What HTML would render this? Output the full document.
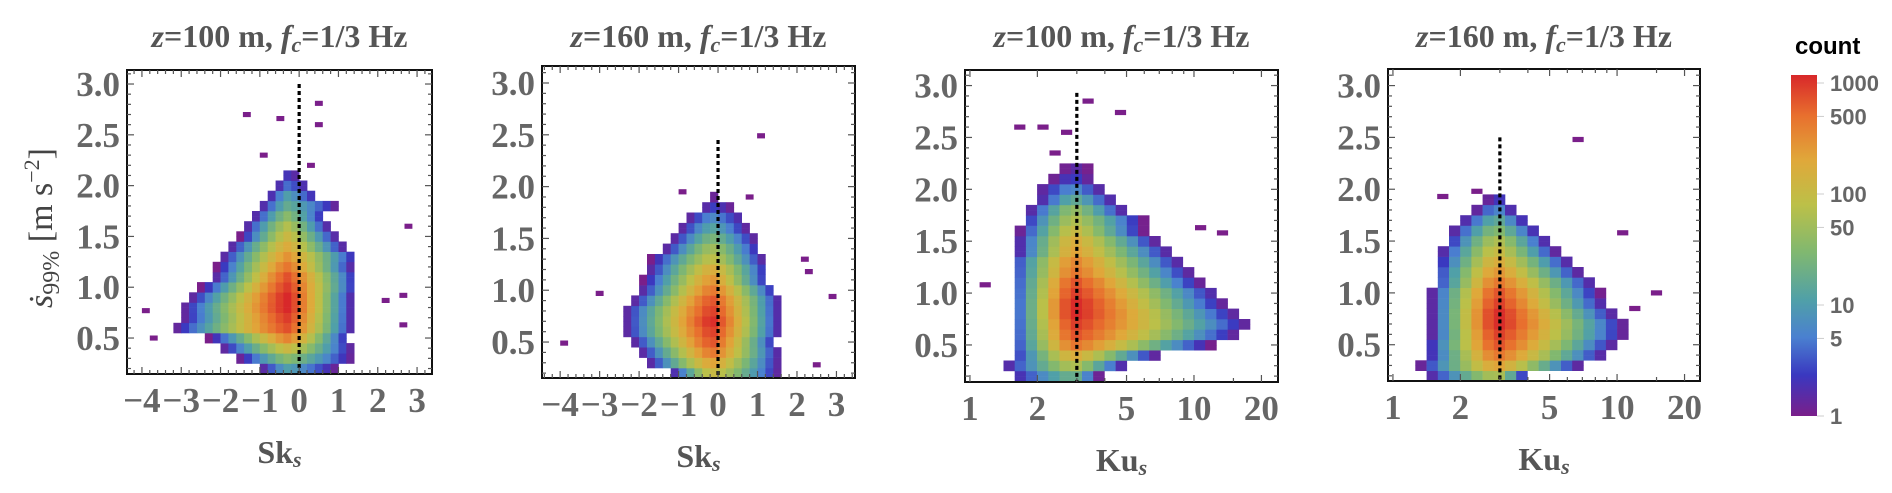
<!DOCTYPE html>
<html><head><meta charset="utf-8"><style>
html,body{margin:0;padding:0;background:#fff;}
svg{display:block;}
.tk{font-family:"Liberation Serif",serif;font-weight:bold;fill:#666;font-size:35px;}
.tt{font-family:"Liberation Serif",serif;font-weight:bold;fill:#555;font-size:32px;}
.cb{font-family:"Liberation Sans",sans-serif;font-weight:bold;fill:#666;font-size:22px;}
</style></head><body>
<svg id="chart" width="1892" height="493" viewBox="0 0 1892 493" xmlns="http://www.w3.org/2000/svg">
<defs>
<linearGradient id="cbg" x1="0" y1="1" x2="0" y2="0">
<stop offset="0" stop-color="#7a1f8a"/><stop offset="0.12" stop-color="#3a38c0"/><stop offset="0.23" stop-color="#4a80d0"/>
<stop offset="0.34" stop-color="#50a0a8"/><stop offset="0.48" stop-color="#80b870"/><stop offset="0.62" stop-color="#bcc048"/>
<stop offset="0.75" stop-color="#e0a83a"/><stop offset="0.88" stop-color="#e8702e"/><stop offset="1" stop-color="#d8282a"/>
</linearGradient>
</defs>
<g id="plots"></g>
<g>
<text x="1795" y="54" style="font-family:'Liberation Sans',sans-serif;font-weight:bold;font-size:24px;fill:#000">count</text>
<rect x="1791" y="75" width="26" height="341" fill="url(#cbg)"/>
<g id="cbticks"></g>
</g>
</svg>
<script>
// ---- data ----
const rowY1 = [0.2,0.3,0.4,0.5,0.6,0.7,0.8,0.9,1.0,1.1,1.2,1.3,1.4,1.5,1.6,1.7,1.8,1.9,2.0,2.1];
const rowL1 = [-1.0,-1.55,-2.0,-2.3,-3.2,-3.0,-3.0,-2.8,-2.5,-2.2,-2.1,-2.0,-1.8,-1.5,-1.4,-1.2,-1.0,-0.8,-0.6,-0.4];
const rowR1 = [1.0,1.4,1.4,1.3,1.4,1.4,1.4,1.4,1.5,1.5,1.4,1.5,1.2,1.0,0.8,0.7,1.0,0.5,0.3,0.1];
const rowP1 = [1.0,1.5,2.0,2.5,2.8,2.9,3.0,3.0,2.9,2.8,2.6,2.4,2.2,2.0,1.8,1.5,1.2,1.0,0.6,0.3];
const out1x = [-1.33,0.5,-0.48,0.5,2.78,-3.9,-3.7,2.65,2.65,2.2,-0.9,0.3];
const out1y = [2.7,2.81,2.66,2.6,1.6,0.77,0.5,0.63,0.92,0.87,2.3,2.2];

const rowY2 = [0.2,0.3,0.4,0.5,0.6,0.7,0.8,0.9,1.0,1.1,1.2,1.3,1.4,1.5,1.6,1.7,1.8,1.9];
const rowL2 = [-1.2,-1.8,-2.0,-2.2,-2.4,-2.4,-2.4,-2.2,-2.0,-1.9,-1.8,-1.7,-1.4,-1.2,-1.0,-0.8,-0.4,-0.1];
const rowR2 = [1.6,1.6,1.6,1.5,1.6,1.6,1.6,1.6,1.5,1.3,1.3,1.2,1.1,1.0,0.8,0.7,0.4,0.1];
const rowP2 = [2.0,2.3,2.6,2.8,2.9,3.0,2.9,2.8,2.6,2.4,2.2,1.9,1.7,1.4,1.1,0.8,0.4,0.1];
const out2x = [1.09,-3.9,2.9,2.5,2.3,-3.0,2.2,-0.9,0.8];
const out2y = [2.49,0.49,0.94,0.28,1.18,0.97,1.3,1.95,1.9];

const rowY3 = [0.2,0.3,0.4,0.5,0.6,0.7,0.8,0.9,1.0,1.1,1.2,1.3,1.4,1.5,1.6,1.7,1.8,1.9,2.0,2.1,2.2];
const rowL3 = [1.5,1.4,1.5,1.5,1.5,1.5,1.5,1.5,1.5,1.5,1.5,1.5,1.6,1.6,1.65,1.7,1.8,2.0,2.0,2.3,2.6];
const rowR3 = [3.8,5,7,12,16,18,16,14,13,11,10,9,8,7,6,6,5,4.5,4.0,3.5,3.4];
const rowP3 = [1.3,1.8,2.2,2.6,2.8,2.9,3.0,3.0,2.9,2.8,2.6,2.5,2.3,2.2,2.0,1.8,1.6,1.2,0.8,0.4,0.2];
const out3x = [3.37,4.7,1.67,2.12,10.7,13.4,1.17,2.7,2.4];
const out3y = [2.85,2.74,2.6,2.6,1.63,1.58,1.08,2.55,2.35];

const rowY4 = [0.2,0.3,0.4,0.5,0.6,0.7,0.8,0.9,1.0,1.1,1.2,1.3,1.4,1.5,1.6,1.7,1.8,1.9];
const rowL4 = [1.4,1.3,1.4,1.4,1.45,1.45,1.45,1.45,1.45,1.5,1.5,1.55,1.6,1.7,1.8,2.0,2.3,2.6];
const rowR4 = [4.0,7,9,10,11,11,10,9,8.5,8,7,6.3,5.5,5,4.5,4.0,3.5,3.2];
const rowP4 = [1.8,2.3,2.6,2.8,2.9,3.0,3.0,2.9,2.8,2.6,2.4,2.2,2.0,1.8,1.5,1.2,0.8,0.4];
const out4x = [6.7,10.6,1.67,2.37,15,12];
const out4y = [2.48,1.58,1.93,1.98,1.0,0.85];

const cbValues = [1,5,10,50,100,500,1000];
const yTicks = [0.5,1.0,1.5,2.0,2.5,3.0];
const skTicks = [-4,-3,-2,-1,0,1,2,3];
const kuTicks = [1,2,5,10,20];
const titles = ["z=100 m","z=160 m","z=100 m","z=160 m"];

// ---- rendering ----
const NS="http://www.w3.org/2000/svg";
function mk(tag,attrs,parent){const e=document.createElementNS(NS,tag);for(const k in attrs)e.setAttribute(k,attrs[k]);if(parent)parent.appendChild(e);return e;}
const stops=[[0,[122,31,138]],[0.12,[58,56,192]],[0.23,[74,128,208]],[0.34,[80,160,168]],[0.48,[128,184,112]],[0.62,[188,192,72]],[0.75,[224,168,58]],[0.88,[232,112,46]],[1,[216,40,42]]];
function cmap(t){t=Math.max(0,Math.min(1,t));for(let i=1;i<stops.length;i++){if(t<=stops[i][0]){const a=stops[i-1],b=stops[i];const f=(t-a[0])/(b[0]-a[0]);const c=a[1].map((v,j)=>Math.round(v+(b[1][j]-v)*f));return `rgb(${c[0]},${c[1]},${c[2]})`;}}return "rgb(216,40,42)";}

const panels=[
 {x0:127,x1:432,y0:70,y1:374,xd:[-4.38,3.38],yd:[0.146,3.138],log:false,c:-0.3,rows:[rowY1,rowL1,rowR1,rowP1],ox:out1x,oy:out1y,dash:3.0,dx:0,lab:"Sk",title:titles[0]},
 {x0:542,x1:855,y0:66,y1:378,xd:[-4.46,3.47],yd:[0.153,3.164],log:false,c:-0.15,rows:[rowY2,rowL2,rowR2,rowP2],ox:out2x,oy:out2y,dash:2.45,dx:0,lab:"Sk",title:titles[1]},
 {x0:965,x1:1278,y0:70,y1:382,xd:[-0.022,1.375],yd:[0.143,3.15],log:true,c:2.9,rows:[rowY3,rowL3,rowR3,rowP3],ox:out3x,oy:out3y,dash:2.93,dx:3,lab:"Ku",title:titles[2]},
 {x0:1388,x1:1700,y0:69,y1:381,xd:[-0.022,1.37],yd:[0.15,3.16],log:true,c:2.9,rows:[rowY4,rowL4,rowR4,rowP4],ox:out4x,oy:out4y,dash:2.5,dx:3,lab:"Ku",title:titles[3]}
];
const root=document.getElementById('plots');
panels.forEach((p,pi)=>{
 const g=mk('g',{},root);
 
 
 const tx=v=>{const u=p.log?Math.log10(v):v;return p.x0+(u-p.xd[0])/(p.xd[1]-p.xd[0])*(p.x1-p.x0);};
 const ty=v=>p.y1-(v-p.yd[0])/(p.yd[1]-p.yd[0])*(p.y1-p.y0);
 const bw=p.log?0.05:0.2, start=p.log?0:-4.4;
 const cg=mk('g',{},g);
 
 
 const [ry,rl,rr,rp]=p.rows;
 const cu=p.log?Math.log10(p.c):p.c;
 ry.forEach((yv,i)=>{
  const L=p.log?Math.log10(rl[i]):rl[i], R=p.log?Math.log10(rr[i]):rr[i];
  for(let b=start;b<p.xd[1];b+=bw){
   const xm=b+bw/2; if(xm<L||xm>R)continue;
   const hw=xm<cu?(cu-L):(R-cu); const u=Math.abs(xm-cu)/Math.max(hw,1e-6);
   const lv=rp[i]*Math.max(0,1-Math.pow(u,1.3));
   const col=cmap(lv/3);
   for(let h=0;h<2;h++){
    const ya=yv-0.05+h*0.05; if(ya<p.yd[0]-0.01)continue;
    const xa=p.log?Math.pow(10,b):b, xb=p.log?Math.pow(10,b+bw):b+bw;
    const r=mk('rect',{x:tx(xa).toFixed(1),y:ty(ya+0.05).toFixed(1),width:(tx(xb)-tx(xa)+0.3).toFixed(1),height:(ty(ya)-ty(ya+0.05)+0.3).toFixed(1),fill:col},cg);
    
    
   }
  }
 });
 p.ox.forEach((xv,i)=>{
  const w=p.log?(tx(xv*Math.pow(10,bw))-tx(xv)):(tx(xv+bw)-tx(xv));
  const r=mk('rect',{x:(tx(xv)-w/2).toFixed(1),y:(ty(p.oy[i]+0.025)).toFixed(1),width:w.toFixed(1),height:(ty(0)-ty(0.05)).toFixed(1),fill:cmap(0)},cg);
  
  
 });
 const dl=mk('line',{x1:tx(p.dx),x2:tx(p.dx),y1:ty(p.dash),y2:p.y1,stroke:'#000','stroke-width':3.2,'stroke-dasharray':'4 3'},g);
 
 
 const fr=mk('rect',{x:p.x0,y:p.y0,width:p.x1-p.x0,height:p.y1-p.y0,fill:'none',stroke:'#111','stroke-width':2},g);
 
 
 const tg=mk('g',{stroke:'#555','stroke-width':1.2},g);
 
 
 for(let v=0.2;v<3.15;v+=0.1){const y=ty(v);if(y<p.y0||y>p.y1)continue;const major=Math.abs(v*2-Math.round(v*2))<0.01;const L=major?7:4;
  mk('line',{x1:p.x0,x2:p.x0+L,y1:y,y2:y},tg);mk('line',{x1:p.x1,x2:p.x1-L,y1:y,y2:y},tg);}
 if(!p.log){for(let v=-4.4;v<3.5;v+=0.2){const x=tx(v);if(x<p.x0||x>p.x1)continue;const major=Math.abs(v-Math.round(v))<0.01;const L=major?7:4;
  mk('line',{x1:x,x2:x,y1:p.y1,y2:p.y1-L},tg);mk('line',{x1:x,x2:x,y1:p.y0,y2:p.y0+L},tg);}}
 else{[1,2,3,4,5,6,7,8,9,10,15,20].forEach(v=>{const x=tx(v);const major=kuTicks.includes(v);const L=major?7:4;
  mk('line',{x1:x,x2:x,y1:p.y1,y2:p.y1-L},tg);mk('line',{x1:x,x2:x,y1:p.y0,y2:p.y0+L},tg);});}
 yTicks.forEach(v=>{const t=mk('text',{x:p.x0-7,y:ty(v)+12,'text-anchor':'end',class:'tk'},g);t.textContent=v.toFixed(1);
  });
 (p.log?kuTicks:skTicks).forEach(v=>{const t=mk('text',{x:tx(v),y:p.y1+38,'text-anchor':'middle',class:'tk'},g);t.textContent=v<0?'\u2212'+(-v):String(v);
  });
 const xt=mk('text',{x:(p.x0+p.x1)/2,y:p.y1+89,'text-anchor':'middle',class:'tt'},g);
 xt.innerHTML=p.lab+'<tspan font-style="italic" font-size="22" dy="4">s</tspan>';
 
 const tt=mk('text',{x:(p.x0+p.x1)/2,y:47,'text-anchor':'middle',class:'tt'},g);
 tt.innerHTML='<tspan font-style="italic">z</tspan>='+p.title.slice(2)+', <tspan font-style="italic">f</tspan><tspan font-style="italic" font-size="22" dy="5">c</tspan><tspan dy="-5">=1/3 Hz</tspan>';
 
});
const yt=mk('text',{transform:'translate(52,228) rotate(-90)','text-anchor':'middle',style:'font-family:"Liberation Serif",serif;fill:#444;font-size:34px'},root);
yt.innerHTML='<tspan font-style="italic">ṡ</tspan><tspan font-size="24" dy="7">99%</tspan><tspan dy="-7"> [m s</tspan><tspan font-size="22" dy="-13">−2</tspan><tspan dy="13">]</tspan>';


const cbt=document.getElementById('cbticks');
cbValues.forEach(v=>{const y=416-Math.log10(v)/3*333;
 mk('line',{x1:1817,x2:1824,y1:y,y2:y,stroke:'#ccc','stroke-width':1},cbt);
 const t=mk('text',{x:1830,y:y+8,class:'cb'},cbt);t.textContent=String(v);
 
 
});
</script>
</body></html>
